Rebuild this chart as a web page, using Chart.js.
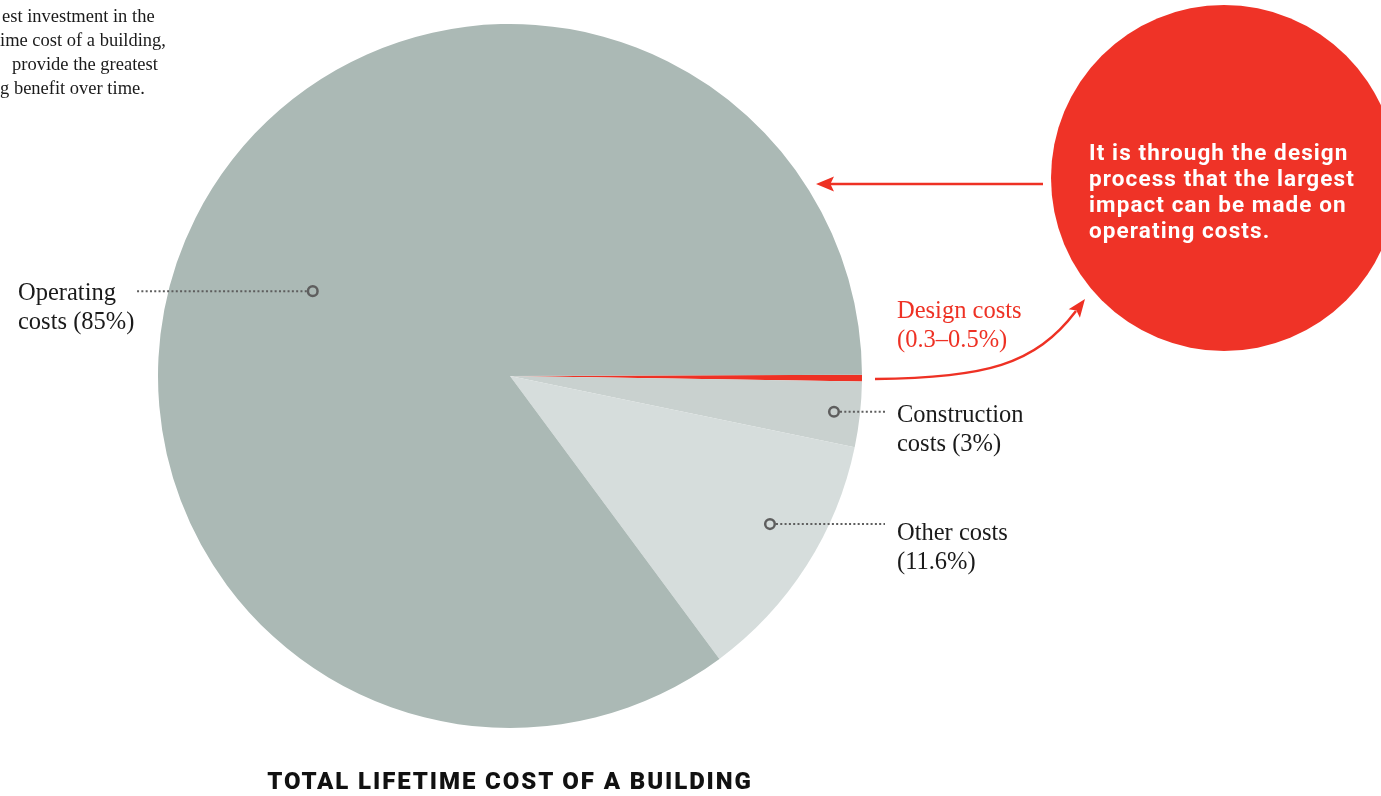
<!DOCTYPE html>
<html>
<head>
<meta charset="utf-8">
<script src="https://cdn.jsdelivr.net/npm/chart.js@4"></script>
<style>
  html, body { margin: 0; padding: 0; background: #fff; }
  #wrap { position: relative; width: 1381px; height: 796px; overflow: hidden; }
  #pie { position: absolute; left: 0; top: 0; }
  .serif { position: absolute; font-family: "Liberation Serif", "Times New Roman", serif; font-size: 24.5px; line-height: 29px; color: #1a1a1a; white-space: nowrap; }
  .note { position: absolute; font-family: "Liberation Serif", serif; font-size: 18.5px; line-height: 24px; color: #1a1a1a; white-space: nowrap; }
  #bubble { position: absolute; left: 1089px; top: 139px; font-family: Roboto, sans-serif; font-weight: 700; font-size: 22.5px; line-height: 26px; letter-spacing: 1.1px; color: #fff; white-space: nowrap; }
  #title { position: absolute; left: 0; width: 1020px; top: 769px; text-align: center; font-family: Roboto, sans-serif; font-weight: 900; font-size: 24px; line-height: 24px; letter-spacing: 1.9px; color: #111; }
</style>
</head>
<body>
<div id="wrap">
  <canvas id="pie" width="1381" height="796"></canvas>

  <div class="note" style="left:2px; top:4px;">est investment in the</div>
  <div class="note" style="left:0px; top:28px;">ime cost of a building,</div>
  <div class="note" style="left:12px; top:52px;">provide the greatest</div>
  <div class="note" style="left:0px; top:76px;">g benefit over time.</div>

  <div class="serif" style="left:18px; top:277px;">Operating<br>costs (85%)</div>
  <div class="serif" style="left:897px; top:295px; color:#ee3124;">Design costs<br>(0.3–0.5%)</div>
  <div class="serif" style="left:897px; top:399px;">Construction<br>costs (3%)</div>
  <div class="serif" style="left:897px; top:517px;">Other costs<br>(11.6%)</div>

  <div id="bubble">It is through the design<br>process that the largest<br>impact can be made on<br>operating costs.</div>
  <div id="title">TOTAL LIFETIME COST OF A BUILDING</div>
</div>

<script>
const categories = ["Design costs", "Construction costs", "Other costs", "Operating costs"];
const shares = [0.3, 3, 11.6, 85];
const sliceColors = ["#ee3124", "#c9d1cf", "#d6dddc", "#abb9b5"];

const RED = "#ee3124";
const LEADER = "#5e5e5e";

// marker spot inside each slice: [fraction along the arc, fraction of radius]
const markerSpots = { 1: [0.5, 0.926], 2: [0.43, 0.85], 3: [0.489, 0.61] };

function arrowHead(ctx, x, y, ang, len, half) {
  ctx.save();
  ctx.translate(x, y);
  ctx.rotate(ang);
  ctx.beginPath();
  ctx.moveTo(0, 0);
  ctx.lineTo(-len, -half);
  ctx.lineTo(-len * 0.8, 0);
  ctx.lineTo(-len, half);
  ctx.closePath();
  ctx.fill();
  ctx.restore();
}

const annotations = {
  id: "annotations",
  afterDraw(chart) {
    const ctx = chart.ctx;
    const arcs = chart.getDatasetMeta(0).data;

    // red bubble
    ctx.save();
    ctx.fillStyle = "#ef3327";
    ctx.beginPath();
    ctx.arc(1224, 178, 173, 0, Math.PI * 2);
    ctx.fill();

    // straight arrow from bubble to pie
    ctx.strokeStyle = RED;
    ctx.fillStyle = RED;
    ctx.lineWidth = 2.5;
    ctx.beginPath();
    ctx.moveTo(1043, 184);
    ctx.lineTo(830, 184);
    ctx.stroke();
    arrowHead(ctx, 816, 184, Math.PI, 18, 7.5);

    // curved arrow from design slice to bubble
    ctx.beginPath();
    ctx.moveTo(875, 379);
    ctx.bezierCurveTo(985, 378, 1035, 365, 1076, 311);
    ctx.stroke();
    arrowHead(ctx, 1085, 299, Math.atan2(-58, 43), 18, 7);

    // markers and dotted leaders
    const pts = {};
    Object.keys(markerSpots).forEach((k) => {
      const a = arcs[k];
      const [fa, fr] = markerSpots[k];
      const ang = a.startAngle + (a.endAngle - a.startAngle) * fa;
      const r = a.outerRadius * fr;
      pts[k] = [a.x + Math.cos(ang) * r, a.y + Math.sin(ang) * r];
    });

    ctx.strokeStyle = LEADER;
    ctx.lineWidth = 2;
    ctx.setLineDash([2, 2.3]);
    const leaders = [
      [pts[3][0] - 6, pts[3][1], 135],
      [pts[1][0] + 6, pts[1][1], 885],
      [pts[2][0] + 6, pts[2][1], 885],
    ];
    leaders.forEach(([x1, y, x2]) => {
      ctx.beginPath();
      ctx.moveTo(x1, y);
      ctx.lineTo(x2, y);
      ctx.stroke();
    });
    ctx.setLineDash([]);
    ctx.lineWidth = 2.5;
    Object.values(pts).forEach(([x, y]) => {
      ctx.beginPath();
      ctx.arc(x, y, 4.8, 0, Math.PI * 2);
      ctx.stroke();
    });
    ctx.restore();
  },
};

new Chart(document.getElementById("pie"), {
  type: "pie",
  data: {
    labels: categories,
    datasets: [
      {
        data: shares,
        backgroundColor: sliceColors,
        borderWidth: 0,
      },
    ],
  },
  options: {
    responsive: false,
    animation: false,
    rotation: 89.8,
    layout: {
      padding: { left: 158, top: 24, right: 519, bottom: 68 },
    },
    plugins: {
      legend: { display: false },
      tooltip: { enabled: false },
    },
  },
  plugins: [annotations],
});
</script>
</body>
</html>
